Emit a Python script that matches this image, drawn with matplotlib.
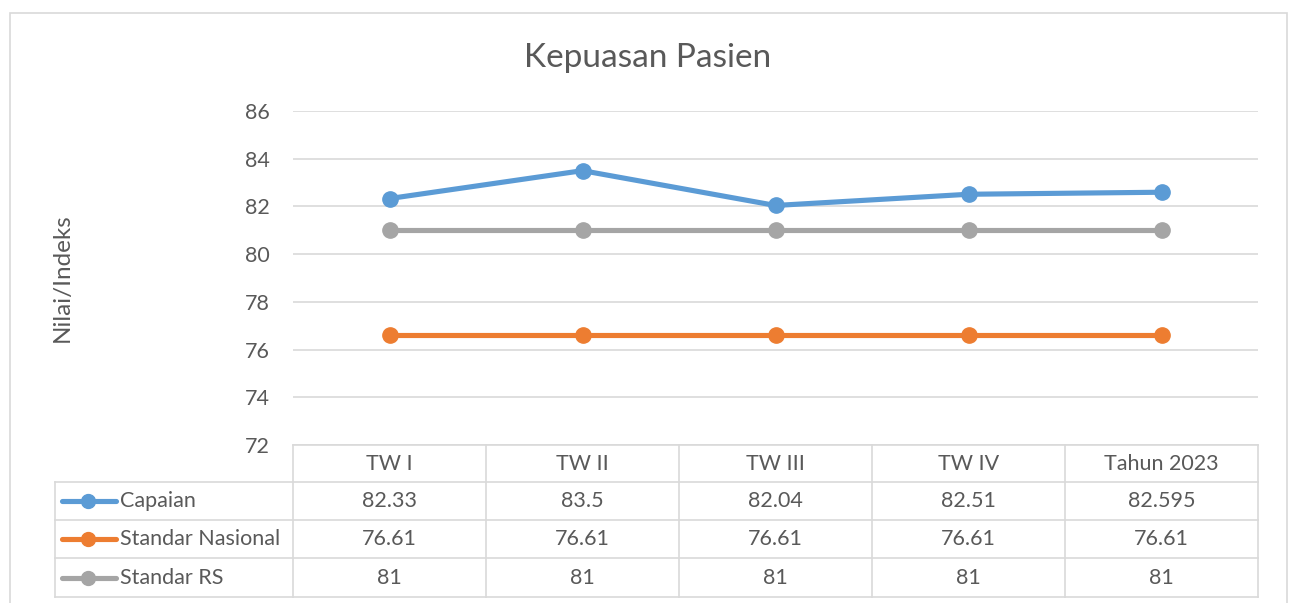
import matplotlib.pyplot as plt
from matplotlib.lines import Line2D
from matplotlib.patches import Rectangle

plt.rcParams['font.family'] = ['Lato', 'DejaVu Sans']

# data
kategori = ["TW I", "TW II", "TW III", "TW IV", "Tahun 2023"]
capaian = [82.33, 83.5, 82.04, 82.51, 82.595]
standar_nasional = [76.61, 76.61, 76.61, 76.61, 76.61]
standar_rs = [81, 81, 81, 81, 81]
nama_seri = ["Capaian", "Standar Nasional", "Standar RS"]
teks_seri = [
    ["82.33", "83.5", "82.04", "82.51", "82.595"],
    ["76.61"] * 5,
    ["81"] * 5,
]
warna = ["#5B9BD5", "#ED7D31", "#A5A5A5"]
yticks = [72, 74, 76, 78, 80, 82, 84, 86]

W, H = 1289, 603
fig = plt.figure(figsize=(W / 100, H / 100), dpi=100)


def fx(px):
    return px / W


def fy(py):
    return 1 - py / H


teks_warna = "#595959"
garis_warna = "#D9D9D9"
fs = 15.5
lw_seri = 3.7
ms = 11

# outer chart frame
fig.add_artist(Rectangle((fx(10), fy(620)), fx(1287) - fx(10), fy(13) - fy(620),
                         transform=fig.transFigure, fill=False,
                         edgecolor=garis_warna, lw=1.2))

# plot area
x0, x1, ytop, ybot = 293, 1258, 111, 445
ax = fig.add_axes([fx(x0), fy(ybot), fx(x1) - fx(x0), fy(ytop) - fy(ybot)])
ax.set_xlim(0, len(kategori))
ax.set_ylim(72, 86)
ax.set_yticks(yticks)
ax.set_xticks([])
ax.tick_params(axis='y', length=0, pad=16.5, labelsize=fs, labelcolor=teks_warna)
for s in ax.spines.values():
    s.set_visible(False)
ax.grid(axis='y', color=garis_warna, lw=1.2)
ax.set_axisbelow(True)

xs = [i + 0.5 for i in range(len(kategori))]
for seri, c in zip([capaian, standar_nasional, standar_rs], warna):
    ax.plot(xs, seri, color=c, lw=lw_seri, marker='o', markersize=ms,
            solid_capstyle='round', solid_joinstyle='round', zorder=3)

fig.text(fx(62), fy(278), "Nilai/Indeks", fontsize=17.5, color=teks_warna,
         rotation=90, ha='center', va='center')

fig.text(fx(648), fy(58), "Kepuasan Pasien", fontsize=24, color=teks_warna,
         ha='center', va='center')

# data table
col_w = (x1 - x0) / len(kategori)
rows_y = [445, 482, 520, 558, 597]
tlw = 1.2


def hline(xa, xb, y):
    fig.add_artist(Line2D([fx(xa), fx(xb)], [fy(y), fy(y)], transform=fig.transFigure,
                          color=garis_warna, lw=tlw))


def vline(x, ya, yb):
    fig.add_artist(Line2D([fx(x), fx(x)], [fy(ya), fy(yb)], transform=fig.transFigure,
                          color=garis_warna, lw=tlw))


hline(x0, x1, rows_y[0])
for y in rows_y[1:]:
    hline(55, x1, y)
vline(55, rows_y[1], rows_y[-1])
for i in range(len(kategori) + 1):
    vline(x0 + i * col_w, rows_y[0], rows_y[-1])

for i, k in enumerate(kategori):
    fig.text(fx(x0 + (i + 0.5) * col_w), fy((rows_y[0] + rows_y[1]) / 2), k,
             fontsize=fs, color=teks_warna, ha='center', va='center')

for r, (nama, vals, c) in enumerate(zip(nama_seri, teks_seri, warna)):
    yc = (rows_y[r + 1] + rows_y[r + 2]) / 2
    fig.add_artist(Line2D([fx(62), fx(116)], [fy(yc), fy(yc)], transform=fig.transFigure,
                          color=c, lw=lw_seri, solid_capstyle='round'))
    fig.add_artist(Line2D([fx(88)], [fy(yc)], transform=fig.transFigure,
                          color=c, marker='o', markersize=10))
    fig.text(fx(120), fy(yc), nama, fontsize=fs, color=teks_warna,
             ha='left', va='center')
    for i, v in enumerate(vals):
        fig.text(fx(x0 + (i + 0.5) * col_w), fy(yc), v, fontsize=fs,
                 color=teks_warna, ha='center', va='center')

fig.savefig("out.png", dpi=100, facecolor='white')
